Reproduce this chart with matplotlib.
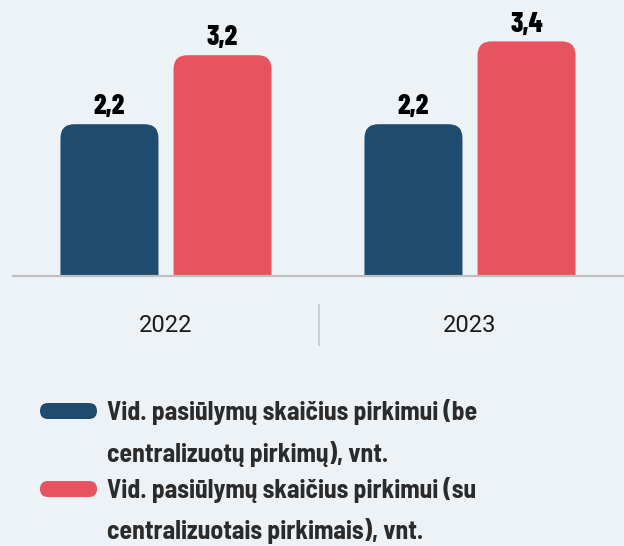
import matplotlib
matplotlib.use("Agg")
import matplotlib.pyplot as plt
from matplotlib.patches import FancyBboxPatch

categories = ["2022", "2023"]
series_names = [
    "Vid. pasiūlymų skaičius pirkimui (be\ncentralizuotų pirkimų), vnt.",
    "Vid. pasiūlymų skaičius pirkimui (su\ncentralizuotais pirkimais), vnt.",
]
series_values = [
    [2.2, 2.2],
    [3.2, 3.4],
]
value_labels = [["2,2", "2,2"], ["3,2", "3,4"]]
colors = ["#1f4b6e", "#e85360"]

BG = "#edf2f6"
W, H = 624, 546
COND = ["Barlow Condensed", "DejaVu Sans"]
SEMI = ["Barlow Semi Condensed", "DejaVu Sans"]

fig = plt.figure(figsize=(W / 100, H / 100), dpi=100, facecolor=BG)

px_per_unit = 69.0
ymax = 3.9
ax_left, ax_right = 13, 624
base_y = 276
ax_h = ymax * px_per_unit
ax = fig.add_axes([ax_left / W, (H - base_y) / H, (ax_right - ax_left) / W, ax_h / H])
ax.set_facecolor(BG)
ax.patch.set_alpha(0)

xpx_per_unit = 304.0
x0 = 166
ax.set_xlim(-(x0 - ax_left) / xpx_per_unit, (ax_right - x0) / xpx_per_unit)
ax.set_ylim(0, ymax)

bar_w = 98 / xpx_per_unit
offsets = [-0.186, 0.186]
aspect = xpx_per_unit / px_per_unit
r = 14 / xpx_per_unit

for si, vals in enumerate(series_values):
    xs = [i + offsets[si] for i in range(len(categories))]
    bars = ax.bar(xs, vals, width=bar_w, color=colors[si])
    for b, lab in zip(bars, value_labels[si]):
        x, w, h = b.get_x(), b.get_width(), b.get_height()
        b.set_visible(False)
        fp = FancyBboxPatch((x, -1.0), w, h + 1.0,
                            boxstyle=f"round,pad=0,rounding_size={r}",
                            mutation_aspect=aspect,
                            facecolor=colors[si], edgecolor="none",
                            clip_on=True)
        ax.add_patch(fp)
        ax.annotate(lab, (x + w / 2, h), xytext=(0, 7), textcoords="offset points",
                    ha="center", va="baseline", fontsize=20, fontweight=800,
                    family=COND, color="#000000")

for s in ["top", "right", "left"]:
    ax.spines[s].set_visible(False)
ax.spines["bottom"].set_color("#bdbfc2")
ax.spines["bottom"].set_linewidth(1.6)
ax.set_yticks([])
ax.set_xticks([])

ov = fig.add_axes([0, 0, 1, 1])
ov.set_xlim(0, W)
ov.set_ylim(H, 0)
ov.axis("off")
ov.patch.set_alpha(0)

for i, c in enumerate(categories):
    xd = ax.transData.transform((i, 0))[0]
    ov.text(xd, 326, c, ha="center", va="center", fontsize=17,
            family=["Roboto", "DejaVu Sans"], color="#1a1a1a")
ov.plot([319, 319], [305, 345], color="#c5c8cc", lw=1.2)

leg_base = [[420, 462], [498, 539]]
for si, name in enumerate(series_names):
    y0 = leg_base[si][0]
    p = FancyBboxPatch((40, y0 - 17), 57, 16,
                       boxstyle="round,pad=0,rounding_size=8",
                       facecolor=colors[si], edgecolor="none")
    ov.add_patch(p)
    for li, line in enumerate(name.split("\n")):
        ov.text(107, leg_base[si][li], line, ha="left", va="baseline",
                fontsize=18.5, fontweight="bold", family=SEMI, color="#2b2b2b")

fig.savefig("out.png", dpi=100, facecolor=BG)
